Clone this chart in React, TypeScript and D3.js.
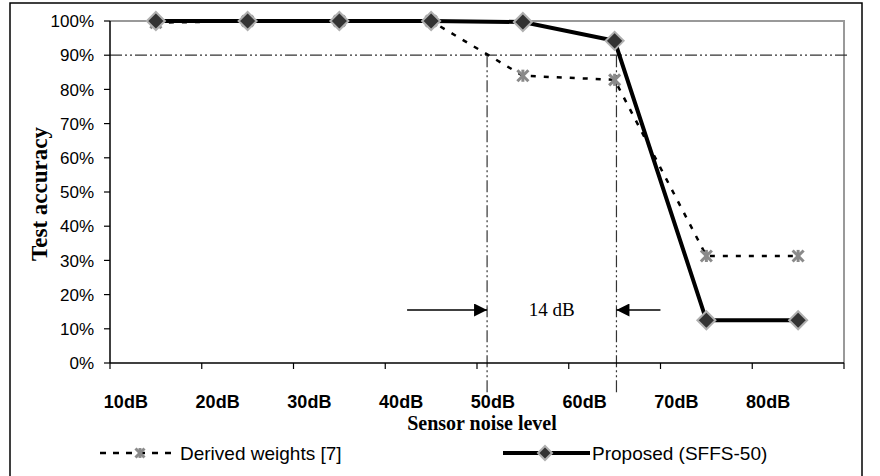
import React from "react";
import * as d3 from "d3";

// Data
const noiseLevels = ["10dB", "20dB", "30dB", "40dB", "50dB", "60dB", "70dB", "80dB"];
const derivedWeights = [0.995, 1.0, 1.0, 1.0, 0.84, 0.828, 0.313, 0.313];
const proposedSFFS = [1.0, 1.0, 1.0, 1.0, 0.997, 0.942, 0.125, 0.125];
const yTicks = [0, 0.1, 0.2, 0.3, 0.4, 0.5, 0.6, 0.7, 0.8, 0.9, 1.0];
const thresholdLevel = 0.9;
// annotation: where each curve drops under 90% (in dB)
const crossingDb = [46.1, 60.2];
const gapLabel = "14 dB";

// Dimensions
const W = 880;
const H = 476;
const plot = { left: 110, right: 844, top: 21, bottom: 363 };

const sansFont = "Arial, 'Liberation Sans', sans-serif";
const serifFont = "'Times New Roman', 'Liberation Serif', serif";

const Diamond = ({ x, y, r }: { x: number; y: number; r: number }) => (
  <path
    d={`M${x},${y - r}L${x + r},${y}L${x},${y + r}L${x - r},${y}Z`}
    fill="#333"
    stroke="#b0b0b0"
    strokeWidth={2}
  />
);

const Star = ({ x, y, r }: { x: number; y: number; r: number }) => (
  <g stroke="#8a8a8a" strokeWidth={3}>
    <line x1={x - r} y1={y - r} x2={x + r} y2={y + r} />
    <line x1={x - r} y1={y + r} x2={x + r} y2={y - r} />
    <line x1={x} y1={y - r * 1.1} x2={x} y2={y + r * 1.1} />
  </g>
);

const App = () => {
  const x = d3.scaleBand().domain(noiseLevels).range([plot.left, plot.right]);
  const cx = (d: string) => (x(d) as number) + x.bandwidth() / 2;
  const y = d3.scaleLinear().domain([0, 1]).range([plot.bottom, plot.top]);
  // dB -> pixel, for the annotation lines
  const xDb = d3
    .scaleLinear()
    .domain([10, 80])
    .range([cx(noiseLevels[0]), cx(noiseLevels[noiseLevels.length - 1])]);

  const line = d3
    .line<number>()
    .x((_, i) => cx(noiseLevels[i]))
    .y((d) => y(d));

  const boundaries = noiseLevels.map((d) => x(d) as number).concat(plot.right);
  const dashDot = "12,3,2,3,2,3";
  const arrowY = 310;
  const [xa, xb] = crossingDb.map(xDb);

  return (
    <svg
      width={W}
      height={H}
      style={{ position: "fixed", top: 0, left: 0, background: "#fff" }}
    >
      {/* outer frame */}
      <rect x={10} y={3} width={852} height={H + 10} fill="none" stroke="#000" strokeWidth={1.5} />

      {/* plot area border (top/right) */}
      <path
        d={`M${plot.left},${plot.top}H${plot.right}V${plot.bottom}`}
        fill="none"
        stroke="#999"
        strokeWidth={2}
      />

      {/* 90% threshold */}
      <line
        x1={plot.left}
        x2={plot.right + 6}
        y1={y(thresholdLevel)}
        y2={y(thresholdLevel)}
        stroke="#333"
        strokeWidth={1.2}
        strokeDasharray={dashDot}
      />
      {[xa, xb].map((v, i) => (
        <line
          key={i}
          x1={v}
          x2={v}
          y1={y(thresholdLevel)}
          y2={393}
          stroke="#333"
          strokeWidth={1.2}
          strokeDasharray={dashDot}
        />
      ))}

      {/* axes */}
      <line x1={plot.left} x2={plot.left} y1={plot.top} y2={plot.bottom} stroke="#000" strokeWidth={1.5} />
      <line x1={plot.left} x2={plot.right} y1={plot.bottom} y2={plot.bottom} stroke="#000" strokeWidth={1.5} />
      {yTicks.map((t) => (
        <g key={t}>
          <line x1={plot.left - 6} x2={plot.left} y1={y(t)} y2={y(t)} stroke="#000" strokeWidth={1.2} />
          <text
            x={94}
            y={y(t)}
            dy="0.36em"
            textAnchor="end"
            fontFamily={sansFont}
            fontSize={17}
          >
            {d3.format(".0%")(t)}
          </text>
        </g>
      ))}
      {boundaries.map((b, i) => (
        <line key={i} x1={b} x2={b} y1={plot.bottom} y2={plot.bottom + 6} stroke="#000" strokeWidth={1.2} />
      ))}
      {noiseLevels.map((d) => (
        <text
          key={d}
          x={cx(d) - 30}
          y={408}
          textAnchor="middle"
          fontFamily={sansFont}
          fontWeight="bold"
          fontSize={18}
        >
          {d}
        </text>
      ))}

      {/* axis titles */}
      <text
        x={482}
        y={430}
        textAnchor="middle"
        fontFamily={serifFont}
        fontWeight="bold"
        fontSize={20}
      >
        Sensor noise level
      </text>
      <text
        transform="translate(47,194) rotate(-90)"
        textAnchor="middle"
        fontFamily={serifFont}
        fontWeight="bold"
        fontSize={23}
      >
        Test accuracy
      </text>

      {/* series */}
      <path d={line(derivedWeights) || ""} fill="none" stroke="#000" strokeWidth={2.5} strokeDasharray="5,8" />
      <path d={line(proposedSFFS) || ""} fill="none" stroke="#000" strokeWidth={4} />
      {derivedWeights.map((v, i) => (
        <Star key={i} x={cx(noiseLevels[i])} y={y(v)} r={5.5} />
      ))}
      {proposedSFFS.map((v, i) => (
        <Diamond key={i} x={cx(noiseLevels[i])} y={y(v)} r={9} />
      ))}

      {/* 14 dB annotation */}
      <defs>
        <marker id="arrowHead" viewBox="0 0 10 10" refX={10} refY={5} markerWidth={26} markerHeight={13} markerUnits="userSpaceOnUse" orient="auto">
          <path d="M0,0L10,5L0,10Z" fill="#000" />
        </marker>
      </defs>
      <line x1={xa - 80} x2={xa} y1={arrowY} y2={arrowY} stroke="#000" strokeWidth={1.5} markerEnd="url(#arrowHead)" />
      <line x1={xb + 44} x2={xb} y1={arrowY} y2={arrowY} stroke="#000" strokeWidth={1.5} markerEnd="url(#arrowHead)" />
      <text x={(xa + xb) / 2} y={316} textAnchor="middle" fontFamily={serifFont} fontSize={19}>
        {gapLabel}
      </text>

      {/* legend */}
      <line x1={100} x2={178} y1={453} y2={453} stroke="#000" strokeWidth={2.5} strokeDasharray="6,7" />
      <Star x={140} y={453} r={4.5} />
      <text x={180} y={460} fontFamily={sansFont} fontSize={19}>
        Derived weights [7]
      </text>
      <line x1={503} x2={590} y1={453} y2={453} stroke="#000" strokeWidth={4} />
      <Diamond x={545} y={453} r={7} />
      <text x={592} y={460} fontFamily={sansFont} fontSize={19}>
        Proposed (SFFS-50)
      </text>
    </svg>
  );
};

export default App;
